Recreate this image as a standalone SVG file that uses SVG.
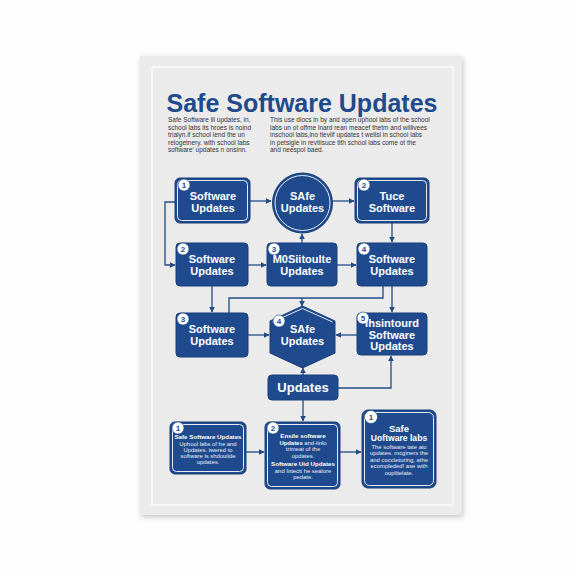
<svg xmlns="http://www.w3.org/2000/svg" width="576" height="576" viewBox="0 0 576 576">
<defs>
<filter id="sh" x="-10%" y="-10%" width="120%" height="120%"><feDropShadow dx="1" dy="2" stdDeviation="2.5" flood-color="#000" flood-opacity="0.22"/></filter>
<marker id="ah" viewBox="0 0 10 10" refX="9" refY="5" markerWidth="6" markerHeight="6" orient="auto" markerUnits="userSpaceOnUse"><path d="M0,0 L10,5 L0,10 z" fill="#234a86"/></marker>
<style>
.n{fill:#1f4b8e;stroke:#183f7a;stroke-width:1}
.in{fill:none;stroke:#e4eaf3;stroke-width:1}
.t{font-family:"Liberation Sans",Arial,sans-serif;font-weight:bold;font-size:11px;fill:#fff;text-anchor:middle}
.b{fill:#fff;stroke:#183f7a;stroke-width:0.6}
.bt{font-family:"Liberation Sans",Arial,sans-serif;font-weight:bold;font-size:8px;fill:#1f4b8e;text-anchor:middle}
.p{font-family:"Liberation Sans",Arial,sans-serif;font-size:6.5px;fill:#333}
.s{font-family:"Liberation Sans",Arial,sans-serif;font-size:5.9px;fill:#e8eef8;text-anchor:middle}
.sb{font-family:"Liberation Sans",Arial,sans-serif;font-weight:bold;font-size:6.2px;fill:#fff;text-anchor:middle}
.c{fill:none;stroke:#234a86;stroke-width:1.3}
</style>
</defs>
<rect width="576" height="576" fill="#fdfdfd"/>
<rect x="140" y="56" width="322" height="459" fill="#ebebeb" filter="url(#sh)"/>
<rect x="152" y="67" width="301" height="438" fill="none" stroke="#fbfbfb" stroke-width="1.5"/>
<text x="302" y="112" font-family="Liberation Sans,Arial,sans-serif" font-weight="bold" font-size="25" fill="#1f4a8c" text-anchor="middle">Safe Software Updates</text>
<g id="intro-left" class="p">
<text x="168" y="122">Safe Software ill updates, in,</text>
<text x="168" y="129.5">school labs its hroes is noind</text>
<text x="168" y="137">trialyn.if school lend the un</text>
<text x="168" y="144.5">relogetnery. with school labs</text>
<text x="168" y="152">software' updates n onsinn.</text>
</g>
<g id="intro-right" class="p">
<text x="270" y="122">This use diocs in by and apen uphool labs of the school</text>
<text x="270" y="129.5">labs un ot offme lnard rean meacef thetm and willivees</text>
<text x="270" y="137">inschool labs,ino tlevlif updates t wellsl in school labs</text>
<text x="270" y="144.5">in petsigle in revtiisuce tlth school labs come ot the</text>
<text x="270" y="152">and neespol baed.</text>
</g>
<g id="connectors">
<path class="c" d="M250,201 H271" marker-end="url(#ah)"/>
<path class="c" d="M333,201 H354" marker-end="url(#ah)"/>
<path class="c" d="M392,223 V242" marker-end="url(#ah)"/>
<path class="c" d="M175,202 H165 V265 H175" marker-end="url(#ah)"/>
<path class="c" d="M248,265 H266" marker-end="url(#ah)"/>
<path class="c" d="M337,265 H356" marker-end="url(#ah)"/>
<path class="c" d="M302,243 V234" marker-end="url(#ah)"/>
<path class="c" d="M212,286 V312" marker-end="url(#ah)"/>
<path class="c" d="M383,286 V298 H229 V313"/>
<path class="c" d="M302,298 V306" marker-end="url(#ah)"/>
<path class="c" d="M392,286 V312" marker-end="url(#ah)"/>
<path class="c" d="M248,335 H269" marker-end="url(#ah)"/>
<path class="c" d="M357,335 H336" marker-end="url(#ah)"/>
<path class="c" d="M303,375 V368" marker-end="url(#ah)"/>
<path class="c" d="M338,388 H391 V356" marker-end="url(#ah)"/>
<path class="c" d="M303,400 V421" marker-end="url(#ah)"/>
<path class="c" d="M246,452 H264" marker-end="url(#ah)"/>
<path class="c" d="M340,452 H361" marker-end="url(#ah)"/>
</g>
<g id="n1">
<rect class="n" x="175" y="178" width="75" height="45" rx="5"/>
<rect class="in" x="177.5" y="180.5" width="70" height="40" rx="4"/>
<circle class="b" cx="184" cy="185" r="6"/><text class="bt" x="184" y="188">1</text>
<text class="t" x="213" y="200">Software</text><text class="t" x="213" y="212">Updates</text>
</g>
<g id="n-circle">
<circle class="n" cx="302.5" cy="203" r="30"/>
<circle class="in" cx="302.5" cy="203" r="27.5"/>
<text class="t" x="302.5" y="200">SAfe</text><text class="t" x="302.5" y="212">Updates</text>
</g>
<g id="n-tuce">
<rect class="n" x="355" y="178" width="74" height="45" rx="5"/>
<rect class="in" x="357.5" y="180.5" width="69" height="40" rx="4"/>
<circle class="b" cx="364" cy="185" r="6"/><text class="bt" x="364" y="188">2</text>
<text class="t" x="392" y="200">Tuce</text><text class="t" x="392" y="212">Software</text>
</g>
<g id="n2">
<rect class="n" x="176" y="243" width="72" height="43" rx="4"/>
<circle class="b" cx="183" cy="249" r="6"/><text class="bt" x="183" y="252">2</text>
<text class="t" x="212" y="263">Software</text><text class="t" x="212" y="275">Updates</text>
</g>
<g id="n3">
<rect class="n" x="267" y="243" width="70" height="43" rx="4"/>
<circle class="b" cx="274" cy="249" r="6"/><text class="bt" x="274" y="252">3</text>
<text class="t" x="302" y="263">M0Siitoulte</text><text class="t" x="302" y="275">Updates</text>
</g>
<g id="n4">
<rect class="n" x="357" y="243" width="70" height="43" rx="4"/>
<circle class="b" cx="364" cy="249" r="6"/><text class="bt" x="364" y="252">4</text>
<text class="t" x="392" y="263">Software</text><text class="t" x="392" y="275">Updates</text>
</g>
<g id="n5">
<rect class="n" x="176" y="313" width="72" height="44" rx="4"/>
<circle class="b" cx="183" cy="319" r="6"/><text class="bt" x="183" y="322">3</text>
<text class="t" x="212" y="333">Software</text><text class="t" x="212" y="345">Updates</text>
</g>
<g id="n-hex">
<polygon class="n" points="302.5,306 335,321 335,353 302.5,368 270,353 270,321"/>
<polyline fill="none" stroke="#e4eaf3" stroke-width="1" points="272.5,322 302.5,308.5 332.5,322"/>
<circle class="b" cx="279" cy="321" r="6"/><text class="bt" x="279" y="324">4</text>
<text class="t" x="302.5" y="333">SAfe</text><text class="t" x="302.5" y="345">Updates</text>
</g>
<g id="n6">
<rect class="n" x="357" y="313" width="70" height="42" rx="4"/>
<circle class="b" cx="363" cy="318" r="6"/><text class="bt" x="363" y="321">5</text>
<text class="t" x="392" y="327">Ihsintourd</text><text class="t" x="392" y="339">Software</text><text class="t" x="392" y="350">Updates</text>
</g>
<g id="n-updates">
<rect class="n" x="268" y="375" width="70" height="25" rx="4"/>
<text class="t" x="303" y="392" style="font-size:13px">Updates</text>
</g>
<g id="b1">
<rect class="n" x="170" y="422" width="76" height="52" rx="5"/>
<rect class="in" x="172.5" y="424.5" width="71" height="47" rx="4"/>
<circle class="b" cx="178" cy="428" r="6"/><text class="bt" x="178" y="431">1</text>
<text class="sb" x="208" y="439">Safe Software Updates</text>
<text class="s" x="208" y="446">Uphool labs of he and</text>
<text class="s" x="208" y="452">Updates. iwered to</text>
<text class="s" x="208" y="458">software is shdouiide</text>
<text class="s" x="208" y="464">updates.</text>
</g>
<g id="b2">
<rect class="n" x="265" y="422" width="75" height="67" rx="5"/>
<rect class="in" x="267.5" y="424.5" width="70" height="62" rx="4"/>
<circle class="b" cx="273" cy="428" r="6"/><text class="bt" x="273" y="431">2</text>
<text class="sb" x="303" y="438">Ensile software</text>
<text class="s" x="303" y="444.5"><tspan font-weight="bold" fill="#fff">Updates</tspan> and-iinlo</text>
<text class="s" x="303" y="451">trimeat of the</text>
<text class="s" x="303" y="457.5">updates.</text>
<text class="sb" x="303" y="466">Software Uid Updates</text>
<text class="s" x="303" y="472.5">and Intecit he sealore</text>
<text class="s" x="303" y="479">pedate.</text>
</g>
<g id="b3">
<rect class="n" x="362" y="410" width="74" height="78" rx="6"/>
<rect class="in" x="364.5" y="412.5" width="69" height="73" rx="5"/>
<circle class="b" cx="371" cy="417" r="6.5"/><text class="bt" x="371" y="420">1</text>
<text class="sb" x="399" y="432" style="font-size:9.5px">Safe</text>
<text class="sb" x="399" y="441" style="font-size:8.6px">Uoftware labs</text>
<text class="s" x="399" y="448.5">The software tate aio</text>
<text class="s" x="399" y="455">updates. mcginers the</text>
<text class="s" x="399" y="461.5">and coccteturing, athe</text>
<text class="s" x="399" y="468">ecompleded! ase with</text>
<text class="s" x="399" y="474.5">ouplitelate.</text>
</g>
</svg>
